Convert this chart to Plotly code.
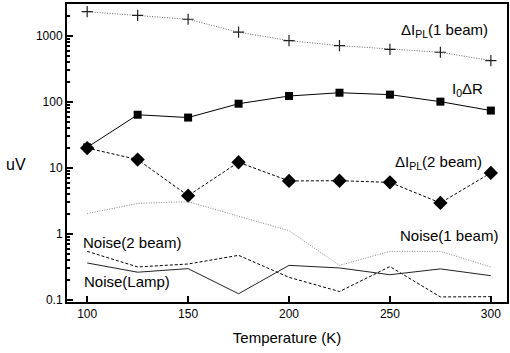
import plotly.graph_objects as go
import math

temps = [100, 125, 150, 175, 200, 225, 250, 275, 300]
dipl_1beam = [2330, 2050, 1790, 1140, 850, 713, 628, 566, 423]
i0_dr = [20.5, 64, 58, 94, 123, 138, 129, 101, 74]
dipl_2beam = [20, 13.4, 3.8, 12.2, 6.35, 6.4, 6.05, 2.95, 8.4]
noise_1beam = [2.03, 2.9, 3.08, 1.86, 1.12, 0.334, 0.545, 0.545, 0.316]
noise_2beam = [0.545, 0.316, 0.35, 0.474, 0.22, 0.134, 0.32, 0.111, 0.112]
noise_lamp = [0.363, 0.263, 0.298, 0.124, 0.334, 0.305, 0.241, 0.295, 0.233]

y_ticks = [0.1, 1, 10, 100, 1000]
y_tick_text = ["0.1", "1", "10", "100", "1000"]
x_ticks = [100, 150, 200, 250, 300]

FONT = "Liberation Sans, Arial, sans-serif"
DOT = "1px,1.5px"
DASH = "3px,2px"

fig = go.Figure()
fig.add_trace(go.Scatter(x=temps, y=dipl_1beam, mode="lines+markers",
                         line=dict(color="#666666", width=1, dash=DOT),
                         marker=dict(symbol="cross-thin", size=8, color="#222222",
                                     line=dict(color="#222222", width=1.2))))
fig.add_trace(go.Scatter(x=temps, y=i0_dr, mode="lines+markers",
                         line=dict(color="black", width=1),
                         marker=dict(symbol="square", size=8, color="black")))
fig.add_trace(go.Scatter(x=temps, y=dipl_2beam, mode="lines+markers",
                         line=dict(color="black", width=1, dash=DASH),
                         marker=dict(symbol="diamond", size=11, color="black")))
fig.add_trace(go.Scatter(x=temps, y=noise_1beam, mode="lines",
                         line=dict(color="#888888", width=1, dash=DOT)))
fig.add_trace(go.Scatter(x=temps, y=noise_2beam, mode="lines",
                         line=dict(color="black", width=1, dash=DASH)))
fig.add_trace(go.Scatter(x=temps, y=noise_lamp, mode="lines",
                         line=dict(color="#222222", width=1)))

labels = [
    ("ΔI<sub>PL</sub>(1 beam)", 277, 1230),
    ("I<sub>0</sub>ΔR", 288.6, 153),
    ("ΔI<sub>PL</sub>(2 beam)", 274, 12.0),
    ("Noise(1 beam)", 279.3, 0.953),
    ("Noise(2 beam)", 122.1, 0.746),
    ("Noise(Lamp)", 119.6, 0.191),
]
for txt, x, y in labels:
    fig.add_annotation(x=x, y=math.log10(y), text=txt, showarrow=False,
                       xanchor="center", yanchor="middle",
                       font=dict(family=FONT, size=15, color="black"))

fig.add_annotation(xref="paper", yref="paper", x=-0.115, y=0.46, text="uV",
                   showarrow=False, xanchor="center", yanchor="middle",
                   font=dict(family=FONT, size=16, color="black"))

fig.update_layout(
    width=510, height=353,
    margin=dict(l=67, r=1, t=4, b=51),
    paper_bgcolor="white", plot_bgcolor="white",
    showlegend=False,
    font=dict(family=FONT, size=11, color="black"),
    xaxis=dict(range=[90, 308], tickvals=x_ticks, ticks="inside", ticklen=6,
               tickwidth=1.5, tickcolor="black", showgrid=False, zeroline=False,
               showline=True, linecolor="black", linewidth=2, mirror=True,
               tickfont=dict(family=FONT, size=12),
               title=dict(text="Temperature (K)", font=dict(family=FONT, size=15),
                          standoff=12)),
    yaxis=dict(type="log", range=[math.log10(0.093), math.log10(3050)],
               tickvals=y_ticks, ticktext=y_tick_text, ticks="inside", ticklen=6,
               tickwidth=1.5, tickcolor="black", showgrid=False, zeroline=False,
               showline=True, linecolor="black", linewidth=2, mirror=True,
               tickfont=dict(family=FONT, size=12),
               minor=dict(ticks="inside", ticklen=3, tickcolor="black",
                          tickvals=[m * 10 ** d for d in range(-1, 4) for m in range(2, 10)],
                          showgrid=False)),
)

fig.write_html("out.html")
